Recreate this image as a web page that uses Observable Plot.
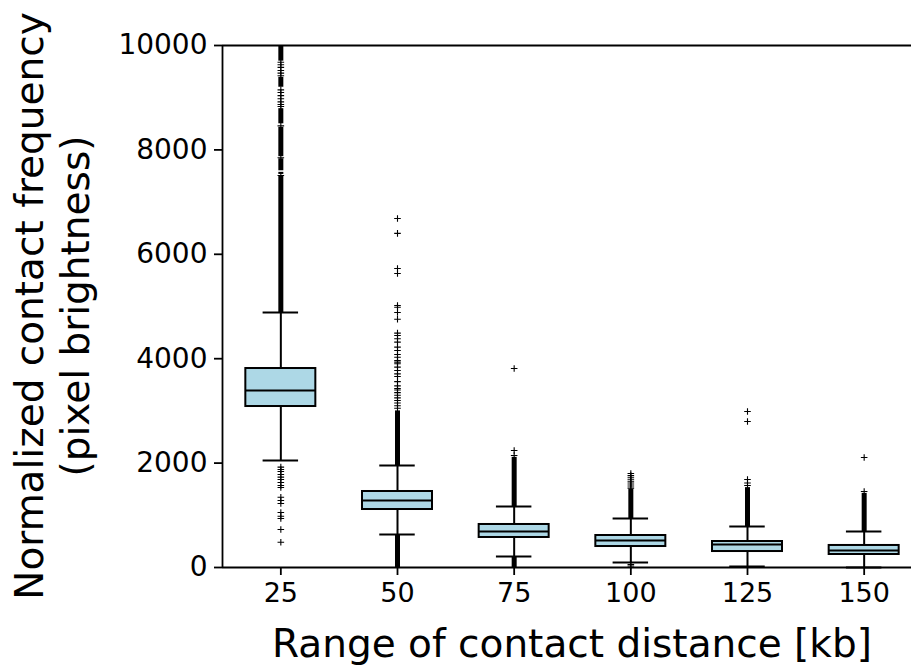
<!DOCTYPE html>
<html>
<head>
<meta charset="utf-8">
<script src="https://cdn.jsdelivr.net/npm/d3@7"></script>
<script src="https://cdn.jsdelivr.net/npm/@observablehq/plot@0.6"></script>
<style>
  html, body { margin: 0; padding: 0; background: #fff; overflow: hidden; }
  #chart svg { overflow: hidden; }
</style>
</head>
<body>
<div id="chart"></div>
<script>
// ---- data ----
const categories   = [25, 50, 75, 100, 125, 150];
const q1           = [3084, 1111, 575, 402, 306, 249];
const median       = [3391, 1284, 690, 517, 441, 326];
const q3           = [3812, 1456, 824, 613, 498, 422];
const whiskerLow   = [2050, 632, 211, 96, 19, 0];
const whiskerHigh  = [4885, 1954, 1169, 939, 785, 690];

// dense runs of outliers (drawn as solid columns): [category, from, to]
const denseRuns = [
  [25, 4885, 7490], [25, 7530, 7570], [25, 7600, 7830], [25, 7870, 8430],
  [25, 8500, 8790], [25, 9200, 9390], [25, 9700, 10000],
  [50, 1954, 3000], [50, 0, 632],
  [75, 1169, 2110], [75, 0, 211],
  [100, 939, 1500],
  [125, 785, 1530],
  [150, 690, 1420]
];

// individual outliers: [category, value]
const outliers25  = [485, 728, 939, 983, 1054, 1226, 1284, 1347, 1533, 1571, 1628, 1686, 1731, 1782, 1839, 1878, 1922,
                     7510, 7850, 8460, 8830, 8870, 8920, 8980, 9040, 9100, 9150, 9420, 9470, 9520, 9580, 9630, 9680];
const outliers50  = [3050, 3100, 3150, 3200, 3250, 3300, 3350, 3400, 3430, 3480, 3560, 3659, 3710, 3774, 3838, 3902, 3934, 3966, 4029,
                     4081, 4157, 4221, 4317, 4381, 4444, 4489, 4757, 4885, 4987, 5019, 5632, 5728, 6400, 6686];
const outliers75  = [2146, 2241, 3812];
const outliers100 = [30, 57, 1520, 1560, 1600, 1640, 1680, 1720, 1760, 1800];
const outliers125 = [1570, 1620, 1686, 2797, 2989];
const outliers150 = [1456, 2107];

const yTicks = [0, 2000, 4000, 6000, 8000, 10000];
const xTitle = "Range of contact distance [kb]";
const yTitle = ["Normalized contact frequency", "(pixel brightness)"];

// ---- tables built from the arrays ----
const boxes = categories.map((c, i) => ({
  cat: c, q1: q1[i], med: median[i], q3: q3[i], lo: whiskerLow[i], hi: whiskerHigh[i]
}));
const dense = denseRuns.map(([cat, from, to]) => ({cat, from, to}));
const outliers = [
  ...outliers25.map(v => ({cat: 25, v})),
  ...outliers50.map(v => ({cat: 50, v})),
  ...outliers75.map(v => ({cat: 75, v})),
  ...outliers100.map(v => ({cat: 100, v})),
  ...outliers125.map(v => ({cat: 125, v})),
  ...outliers150.map(v => ({cat: 150, v}))
];

const halfBox = 7.5, halfCap = 3.8;
const plusSymbol = {
  draw(ctx, size) {
    const r = Math.sqrt(size / Math.PI);
    ctx.moveTo(-r, 0); ctx.lineTo(r, 0);
    ctx.moveTo(0, -r); ctx.lineTo(0, r);
  }
};

const chart = Plot.plot({
  width: 911,
  height: 666,
  marginLeft: 222,
  marginRight: 0,
  marginTop: 45,
  marginBottom: 99,
  style: {fontFamily: "DejaVu Sans", fontSize: "27px", color: "black", background: "white"},
  x: {type: "linear", domain: [12.5, 162.5], range: [222, 922], ticks: categories,
      tickFormat: d => String(d), tickSize: 8, tickPadding: 7, label: null},
  y: {domain: [0, 10000], ticks: yTicks, tickFormat: d => String(d),
      tickSize: 8, tickPadding: 7, label: null},
  marks: [
    // outliers
    Plot.ruleX(dense, {x: "cat", y1: "from", y2: "to", stroke: "black", strokeWidth: 5}),
    Plot.dot(outliers, {x: "cat", y: "v", symbol: plusSymbol, r: 3.3, stroke: "black", strokeWidth: 1.1, fill: "none"}),
    // whiskers
    Plot.ruleX(boxes, {x: "cat", y1: "lo", y2: "q1", stroke: "black", strokeWidth: 2}),
    Plot.ruleX(boxes, {x: "cat", y1: "q3", y2: "hi", stroke: "black", strokeWidth: 2}),
    Plot.ruleY(boxes, {y: "lo", x1: d => d.cat - halfCap, x2: d => d.cat + halfCap, stroke: "black", strokeWidth: 2}),
    Plot.ruleY(boxes, {y: "hi", x1: d => d.cat - halfCap, x2: d => d.cat + halfCap, stroke: "black", strokeWidth: 2}),
    // boxes
    Plot.rect(boxes, {x1: d => d.cat - halfBox, x2: d => d.cat + halfBox, y1: "q1", y2: "q3",
                      fill: "#add8e6", stroke: "black", strokeWidth: 2}),
    Plot.ruleY(boxes, {y: "med", x1: d => d.cat - halfBox, x2: d => d.cat + halfBox, stroke: "black", strokeWidth: 2}),
    // spines
    Plot.ruleY([0, 10000], {stroke: "black", strokeWidth: 1.8}),
    Plot.ruleX([12.5], {stroke: "black", strokeWidth: 1.8})
  ]
});

document.getElementById("chart").appendChild(chart);

const svg = d3.select(chart);
svg.selectAll(".tick line, [aria-label$='tick'] path, [aria-label$='tick'] line").attr("stroke-width", 1.8);
svg.selectAll("[aria-label^='y-axis'] text").attr("font-size", 28).style("font-size", "28px");

svg.append("text")
  .attr("x", 572).attr("y", 657)
  .attr("text-anchor", "middle")
  .attr("font-family", "DejaVu Sans").attr("font-size", 39).attr("fill", "black")
  .text(xTitle);

const yt = svg.append("text")
  .attr("transform", "translate(43,306) rotate(-90)")
  .attr("text-anchor", "middle")
  .attr("font-family", "DejaVu Sans").attr("font-size", 39).attr("fill", "black");
yTitle.forEach((line, i) => yt.append("tspan").attr("x", 0).attr("y", i * 46).text(line));
</script>
</body>
</html>
